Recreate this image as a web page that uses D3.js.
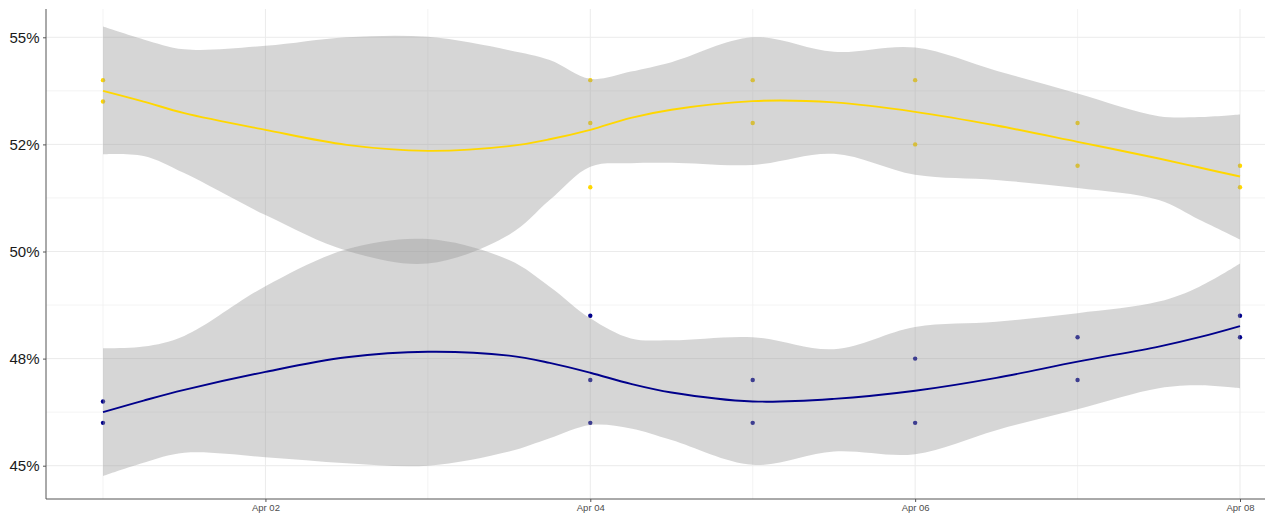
<!DOCTYPE html>
<html>
<head>
<meta charset="utf-8">
<script src="https://cdn.jsdelivr.net/npm/d3@7"></script>
<style>
  html, body { margin: 0; padding: 0; background: #ffffff; }
  svg { display: block; font-family: "Liberation Sans", Arial, sans-serif; }
</style>
</head>
<body>
<svg id="chart" width="1272" height="513"></svg>
<script>
// Poll observations (day of April, share in %)
const pointDays   = [1, 1, 4, 4, 4, 5, 5, 6, 6, 7, 7, 8, 8];
const yellowPts   = [54.0, 53.5, 54.0, 53.0, 51.5, 54.0, 53.0, 54.0, 52.5, 53.0, 52.0, 52.0, 51.5];
const bluePts     = [46.5, 46.0, 48.5, 47.0, 46.0, 47.0, 46.0, 47.5, 46.0, 48.0, 47.0, 48.5, 48.0];

// Smoothed trend and confidence band, sampled along the date axis
const smoothDays  = [1, 1.25, 1.5, 2, 2.5, 3, 3.5, 3.75, 4, 4.25, 4.5, 5, 5.5, 6, 6.5, 7, 7.5, 7.75, 8];
const yellowFit   = [53.75, 53.50, 53.23, 52.84, 52.49, 52.35, 52.46, 52.62, 52.84, 53.12, 53.31, 53.51, 53.48, 53.26, 52.94, 52.56, 52.17, 51.96, 51.75];
const yellowHigh  = [55.25, 54.95, 54.72, 54.80, 55.00, 55.01, 54.70, 54.47, 54.03, 54.20, 54.42, 55.00, 54.66, 54.76, 54.22, 53.69, 53.16, 53.14, 53.20];
const yellowLow   = [52.27, 52.23, 51.83, 50.85, 50.02, 49.72, 50.39, 51.20, 51.98, 52.06, 52.07, 52.02, 52.28, 51.79, 51.67, 51.48, 51.20, 50.74, 50.28];
const blueFit     = [46.25, 46.52, 46.77, 47.19, 47.53, 47.66, 47.57, 47.40, 47.17, 46.91, 46.71, 46.50, 46.56, 46.75, 47.05, 47.43, 47.78, 48.00, 48.26];
const blueHigh    = [47.74, 47.78, 48.03, 49.19, 50.05, 50.29, 49.80, 49.18, 48.44, 47.97, 47.93, 48.00, 47.72, 48.24, 48.36, 48.56, 48.83, 49.18, 49.72];
const blueLow     = [44.76, 45.07, 45.30, 45.20, 45.06, 45.00, 45.33, 45.64, 45.95, 45.87, 45.60, 45.02, 45.33, 45.27, 45.83, 46.32, 46.81, 46.88, 46.81];

// Axis breaks and labels
const yMajor      = [45, 47.5, 50, 52.5, 55];
const yLabels     = ["45%", "48%", "50%", "52%", "55%"];
const yMinor      = [46.25, 48.75, 51.25, 53.75];
const xMajorDays  = [2, 4, 6, 8];
const xMinorDays  = [1, 3, 5, 7];

const aprilDay = d => new Date(Date.UTC(2020, 3, 1) + (d - 1) * 864e5);

const svg = d3.select("#chart");
const panel = { left: 46, right: 1265, top: 9, bottom: 499 };

const x = d3.scaleUtc().domain([aprilDay(1), aprilDay(8)]).range([103, 1240]);
const y = d3.scaleLinear().domain([45, 55]).range([465.7, 37.3]);

// Grid
const grid = svg.append("g");
grid.selectAll(".ymin").data(yMinor).join("line")
  .attr("x1", panel.left).attr("x2", panel.right)
  .attr("y1", d => y(d)).attr("y2", d => y(d))
  .attr("stroke", "#f0f0f0").attr("stroke-width", 0.8);
grid.selectAll(".xmin").data(xMinorDays).join("line")
  .attr("x1", d => x(aprilDay(d))).attr("x2", d => x(aprilDay(d)))
  .attr("y1", panel.top).attr("y2", panel.bottom)
  .attr("stroke", "#f0f0f0").attr("stroke-width", 0.8);
grid.selectAll(".ymaj").data(yMajor).join("line")
  .attr("x1", panel.left).attr("x2", panel.right)
  .attr("y1", d => y(d)).attr("y2", d => y(d))
  .attr("stroke", "#ebebeb").attr("stroke-width", 1);
grid.selectAll(".xmaj").data(xMajorDays).join("line")
  .attr("x1", d => x(aprilDay(d))).attr("x2", d => x(aprilDay(d)))
  .attr("y1", panel.top).attr("y2", panel.bottom)
  .attr("stroke", "#ebebeb").attr("stroke-width", 1);

// Points (drawn beneath the confidence bands)
const pts = svg.append("g");
pts.selectAll(".py").data(pointDays.map((d, i) => [d, yellowPts[i]])).join("circle")
  .attr("cx", d => x(aprilDay(d[0]))).attr("cy", d => y(d[1])).attr("r", 2.2)
  .attr("fill", "#FFD700");
pts.selectAll(".pb").data(pointDays.map((d, i) => [d, bluePts[i]])).join("circle")
  .attr("cx", d => x(aprilDay(d[0]))).attr("cy", d => y(d[1])).attr("r", 2.2)
  .attr("fill", "#00008B");

const curve = d3.curveCatmullRom.alpha(0.5);

function drawSmooth(fit, lo, hi, color) {
  const rows = smoothDays.map((d, i) => ({ t: aprilDay(d), fit: fit[i], lo: lo[i], hi: hi[i] }));
  const area = d3.area().curve(curve)
    .x(d => x(d.t)).y0(d => y(d.lo)).y1(d => y(d.hi));
  const line = d3.line().curve(curve)
    .x(d => x(d.t)).y(d => y(d.fit));
  svg.append("path").datum(rows).attr("d", area)
    .attr("fill", "#999999").attr("fill-opacity", 0.4);
  svg.append("path").datum(rows).attr("d", line)
    .attr("fill", "none").attr("stroke", color).attr("stroke-width", 1.9);
}
drawSmooth(yellowFit, yellowLow, yellowHigh, "#FFD700");
drawSmooth(blueFit, blueLow, blueHigh, "#00008B");

// Axes
const yAxis = d3.axisLeft(y).tickValues(yMajor)
  .tickFormat((d, i) => yLabels[i]).tickSize(3).tickPadding(3.5);
svg.append("g").attr("transform", `translate(${panel.left},0)`).call(yAxis)
  .call(g => g.select(".domain").remove())
  .call(g => g.selectAll(".tick line").attr("stroke", "#555"))
  .call(g => g.selectAll(".tick text").attr("fill", "#1a1a1a")
    .attr("font-size", "15px").attr("font-family", "'Liberation Sans', Arial, sans-serif"));

const xAxis = d3.axisBottom(x).tickValues(xMajorDays.map(aprilDay))
  .tickFormat(d3.utcFormat("%b %d")).tickSize(3).tickPadding(2);
svg.append("g").attr("transform", `translate(0,${panel.bottom})`).call(xAxis)
  .call(g => g.select(".domain").remove())
  .call(g => g.selectAll(".tick line").attr("stroke", "#555"))
  .call(g => g.selectAll(".tick text").attr("fill", "#4d4d4d")
    .attr("font-size", "9.5px").attr("font-family", "'Liberation Sans', Arial, sans-serif"));

svg.append("line").attr("x1", panel.left).attr("x2", panel.left)
  .attr("y1", panel.top).attr("y2", panel.bottom).attr("stroke", "#555").attr("stroke-width", 1);
svg.append("line").attr("x1", panel.left).attr("x2", panel.right)
  .attr("y1", panel.bottom).attr("y2", panel.bottom).attr("stroke", "#555").attr("stroke-width", 1);
</script>
</body>
</html>
